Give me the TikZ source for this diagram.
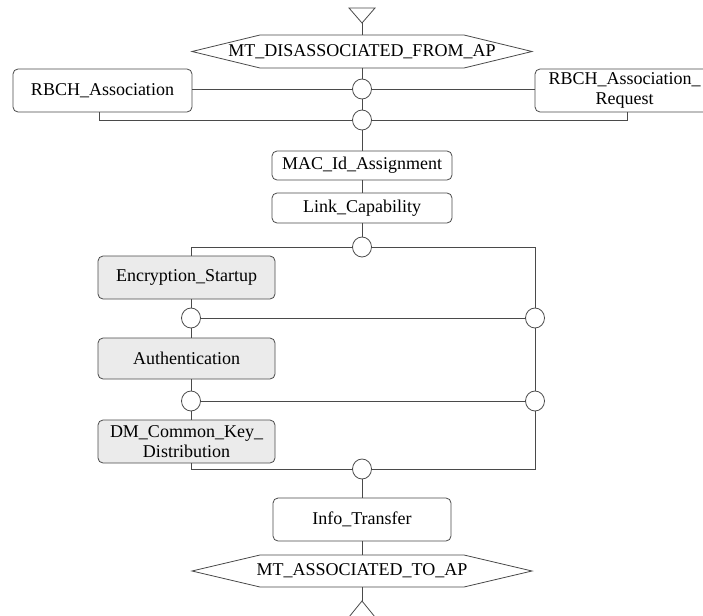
\documentclass[tikz,border=0pt]{standalone}
\usepackage{fontspec}
\setmainfont{Liberation Serif}
\usetikzlibrary{shapes.geometric}
\definecolor{ink}{HTML}{4A4A4A}
\definecolor{shade}{HTML}{EBEBEB}
\begin{document}
\begin{tikzpicture}[x=1pt,y=-1pt,
  every node/.style={font=\fontsize{18}{20}\selectfont, text=black},
  line/.style={draw=ink, line width=0.8pt},
  proc/.style={line, rounded corners=5pt, fill=white, inner sep=0pt, align=center},
  sproc/.style={proc, fill=shade},
  junction/.style={line, ellipse, fill=white, minimum width=19pt, minimum height=20pt, inner sep=0pt},
  plain/.style={inner sep=0pt}]
\useasboundingbox (0,0) rectangle (703,615);

% entry and exit states
\node[plain] (hexTop) at (362,51.5) {MT\_DISASSOCIATED\_FROM\_AP};
\draw[line] (192,51.5) -- (260,35) -- (464,35) -- (532,51.5) -- (464,68) -- (260,68) -- cycle;
\coordinate (hexTopN) at (362,35);
\coordinate (hexTopS) at (362,68);
\node[plain] (hexBot) at (362,571) {MT\_ASSOCIATED\_TO\_AP};
\draw[line] (192,571) -- (260,555) -- (464,555) -- (532,571) -- (464,587) -- (260,587) -- cycle;
\coordinate (hexBotN) at (362,555);
\coordinate (hexBotS) at (362,587);

\coordinate (trTop) at (362,23);
\draw[line] (349,8) -- (375,8) -- (trTop) -- cycle;
\coordinate (trBot) at (362,601);
\draw[line] (349,617) -- (trBot) -- (375,617);

% procedures
\node[proc, minimum width=179pt, minimum height=43pt] (rbA) at (102.5,90.5) {RBCH\_Association};
\node[proc, minimum width=179pt, minimum height=43pt] (rbR) at (624.5,90.5) {RBCH\_Association\_\\Request};
\node[proc, minimum width=180pt, minimum height=29pt] (mac) at (362,165.5) {MAC\_Id\_Assignment};
\node[proc, minimum width=180pt, minimum height=30pt] (link) at (362,208) {Link\_Capability};
\node[sproc, minimum width=177pt, minimum height=43pt] (enc) at (186.5,277.5) {Encryption\_Startup};
\node[sproc, minimum width=177pt, minimum height=41pt] (auth) at (186.5,358.5) {Authentication};
\node[sproc, minimum width=177pt, minimum height=43pt] (dm) at (186.5,441.5) {DM\_Common\_Key\_\\Distribution};
\node[proc, minimum width=178pt, minimum height=43pt] (info) at (362,519.5) {Info\_Transfer};

% junctions
\node[junction] (jA) at (362,89) {};
\node[junction] (jB) at (362,120) {};
\node[junction] (jC) at (362,247) {};
\node[junction] (jL1) at (191,318) {};
\node[junction] (jR1) at (535,318) {};
\node[junction] (jL2) at (191,401) {};
\node[junction] (jR2) at (535,401) {};
\node[junction] (jD) at (362,469) {};

\coordinate (rbAfoot) at (99,112);
\coordinate (rbRfoot) at (627,112);

% connectors
\draw[line] (trTop) -- (hexTopN);
\draw[line] (hexTopS) -- (jA);
\draw[line] (rbA.east |- jA) -- (jA);
\draw[line] (jA) -- (rbR.west |- jA);
\draw[line] (jA) -- (jB);
\draw[line] (rbAfoot) |- (jB);
\draw[line] (rbRfoot) |- (jB);
\draw[line] (jB) -- (mac.north);
\draw[line] (mac.south) -- (link.north);
\draw[line] (link.south) -- (jC);
\draw[line] (jC) -| (jL1 |- enc.north);
\draw[line] (jC) -| (jR1);
\draw[line] (jL1 |- enc.south) -- (jL1);
\draw[line] (jL1) -- (jR1);
\draw[line] (jL1) -- (jL1 |- auth.north);
\draw[line] (jL2 |- auth.south) -- (jL2);
\draw[line] (jL2) -- (jR2);
\draw[line] (jR1) -- (jR2);
\draw[line] (jL2) -- (jL2 |- dm.north);
\draw[line] (jL2 |- dm.south) |- (jD);
\draw[line] (jR2) |- (jD);
\draw[line] (jD) -- (info.north);
\draw[line] (info.south) -- (hexBotN);
\draw[line] (hexBotS) -- (trBot);
\end{tikzpicture}
\end{document}
